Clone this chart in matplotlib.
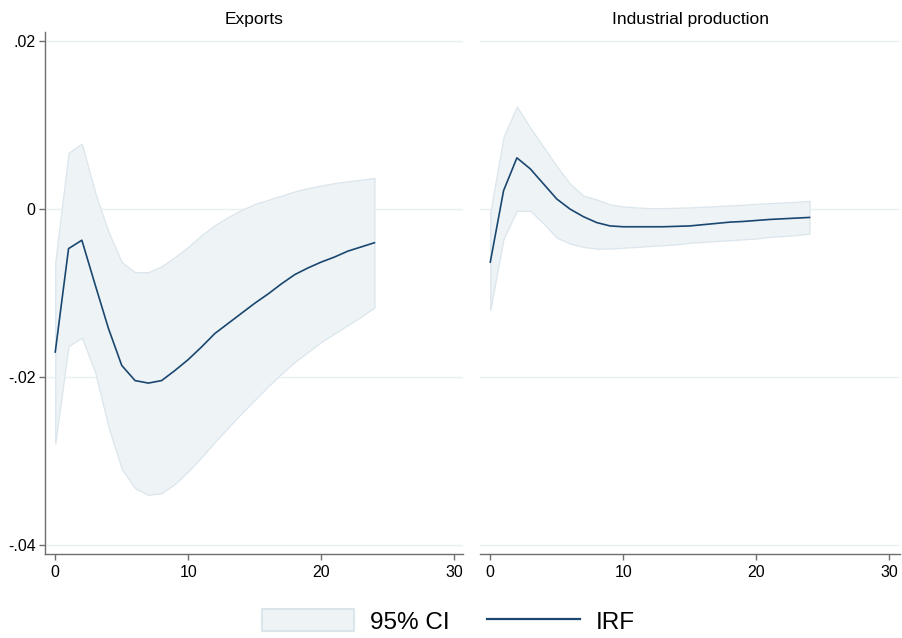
import matplotlib
matplotlib.use("Agg")
import matplotlib.pyplot as plt
from matplotlib.patches import Patch
from matplotlib.lines import Line2D

plt.rcParams["font.family"] = ["Liberation Sans", "DejaVu Sans"]

horizon = list(range(25))

# Exports
exp_irf = [-0.0170, -0.0047, -0.0037, -0.0090, -0.0142, -0.0186, -0.0204, -0.0207,
           -0.0204, -0.0192, -0.0179, -0.0164, -0.0148, -0.0136, -0.0124, -0.0112,
           -0.0101, -0.0089, -0.0078, -0.0070, -0.0063, -0.0057, -0.0050, -0.0045,
           -0.0040]
exp_upper = [-0.0063, 0.0067, 0.0078, 0.0020, -0.0027, -0.0063, -0.0075, -0.0075,
             -0.0068, -0.0057, -0.0045, -0.0031, -0.0019, -0.00095, -0.0001, 0.0006,
             0.0011, 0.0016, 0.0021, 0.0025, 0.0028, 0.0031, 0.0033, 0.0035, 0.0037]
exp_lower = [-0.0279, -0.0163, -0.0153, -0.0194, -0.0259, -0.0309, -0.0332, -0.0340,
             -0.0338, -0.0327, -0.0312, -0.0295, -0.0277, -0.0260, -0.0243, -0.0227,
             -0.0211, -0.0196, -0.0182, -0.0170, -0.0158, -0.0148, -0.0138, -0.0128,
             -0.0117]

# Industrial production
ip_irf = [-0.0063, 0.0022, 0.0061, 0.0048, 0.0030, 0.0012, 0.0000, -0.0009,
          -0.0016, -0.0020, -0.0021, -0.0021, -0.0021, -0.0021, -0.00205, -0.0020,
          -0.00185, -0.0017, -0.00155, -0.00147, -0.00135, -0.00123, -0.00115,
          -0.00107, -0.00099]
ip_upper = [-0.0004, 0.0086, 0.0122, 0.0097, 0.0074, 0.0051, 0.0030, 0.0016,
            0.00115, 0.00056, 0.00032, 0.0002, 0.00012, 0.00012, 0.00016, 0.0002,
            0.00028, 0.00036, 0.00044, 0.00052, 0.00063, 0.00071, 0.00079, 0.00087,
            0.00099]
ip_lower = [-0.0120, -0.0035, -0.0002, -0.0002, -0.0017, -0.0034, -0.0041, -0.0045,
            -0.0047, -0.0047, -0.0046, -0.0045, -0.0044, -0.0043, -0.0042, -0.0040,
            -0.0039, -0.0038, -0.0037, -0.0036, -0.0035, -0.0033, -0.0032, -0.0031,
            -0.0029]

panels = [
    ("Exports", exp_irf, exp_lower, exp_upper),
    ("Industrial production", ip_irf, ip_lower, ip_upper),
]

y_ticks = [-0.04, -0.02, 0.0, 0.02]
y_tick_labels = ["-.04", "-.02", "0", ".02"]
x_ticks = [0, 10, 20, 30]

LINE_COLOR = "#1a476f"
CI_FACE = "#eef3f6"
CI_EDGE = "#dbe6ec"
GRID_COLOR = "#eaf1f3"
AXIS_COLOR = "#6e6e6e"

fig = plt.figure(figsize=(9.02, 6.38), dpi=100)
ax_rects = [
    [0.0502, 0.1312, 0.4634, 0.8186],
    [0.5322, 0.1312, 0.4656, 0.8186],
]
xlims = [(-0.75, 30.68), (-0.77, 30.8)]

for i, ((title, irf, lo, hi), rect) in enumerate(zip(panels, ax_rects)):
    ax = fig.add_axes(rect)
    ax.fill_between(horizon, lo, hi, facecolor=CI_FACE, edgecolor=CI_EDGE,
                    linewidth=0.9, zorder=2)
    ax.plot(horizon, irf, color=LINE_COLOR, linewidth=1.2, zorder=3)
    ax.set_xlim(*xlims[i])
    ax.set_ylim(-0.04107, 0.02107)
    ax.set_yticks(y_ticks)
    ax.set_xticks(x_ticks)
    ax.grid(axis="y", color=GRID_COLOR, linewidth=1.0, zorder=0)
    ax.set_axisbelow(True)
    for side in ["top", "right"]:
        ax.spines[side].set_visible(False)
    ax.spines["bottom"].set_color(AXIS_COLOR)
    ax.spines["left"].set_color(AXIS_COLOR)
    ax.spines["bottom"].set_linewidth(1.0)
    ax.spines["left"].set_linewidth(1.0)
    ax.tick_params(axis="x", colors=AXIS_COLOR, labelcolor="black",
                   length=4.5, width=1.0, labelsize=11.5, pad=3)
    ax.tick_params(axis="y", colors=AXIS_COLOR, labelcolor="black",
                   length=4.5, width=1.0, labelsize=11.5, pad=2.5)
    if i == 0:
        ax.set_yticklabels(y_tick_labels)
    else:
        ax.spines["left"].set_visible(False)
        ax.tick_params(axis="y", left=False, labelleft=False)
    ax.set_title(title, fontsize=12.5, pad=5.5)

handles = [
    Patch(facecolor=CI_FACE, edgecolor=CI_EDGE, linewidth=1.5),
    Line2D([0], [0], color=LINE_COLOR, linewidth=1.6),
]
fig.legend(handles, ["95% CI", "IRF"], loc="center",
           bbox_to_anchor=(0.497, 0.026), ncol=2, frameon=False,
           fontsize=17.5, handlelength=3.8, handleheight=1.03,
           handletextpad=0.65, columnspacing=1.55, borderpad=0)

fig.savefig("out.png", dpi=100, facecolor="white")
